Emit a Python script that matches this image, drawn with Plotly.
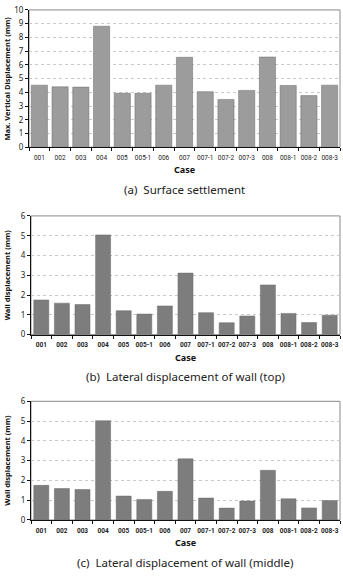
import plotly.graph_objects as go

cases = ["001", "002", "003", "004", "005", "005-1", "006", "007", "007-1",
         "007-2", "007-3", "008", "008-1", "008-2", "008-3"]
surface_settlement = [4.52, 4.40, 4.38, 8.81, 3.93, 3.93, 4.52, 6.55, 4.05,
                      3.48, 4.14, 6.57, 4.50, 3.76, 4.52]
wall_top = [1.75, 1.59, 1.52, 5.04, 1.21, 1.04, 1.45, 3.11, 1.11,
            0.60, 0.94, 2.51, 1.07, 0.61, 0.98]
wall_middle = [1.75, 1.59, 1.54, 5.02, 1.21, 1.04, 1.45, 3.09, 1.11,
               0.60, 0.96, 2.51, 1.07, 0.61, 0.98]

panels = [
    dict(vals=surface_settlement, ymax=10, color="#9c9c9c", width=0.78,
         ytitle="Max. Vertical Displacement (mm)",
         caption="(a)  Surface settlement",
         xdom=[29/343, 340/343], ydom=[1-144/576, 1-4/576], xbold=False),
    dict(vals=wall_top, ymax=6, color="#7d7d7d", width=0.73,
         ytitle="Wall displacement (mm)",
         caption="(b)  Lateral displacement of wall (top)",
         xdom=[31/343, 340/343], ydom=[1-335/576, 1-214/576], xbold=True),
    dict(vals=wall_middle, ymax=6, color="#7d7d7d", width=0.73,
         ytitle="Wall displacement (mm)",
         caption="(c)  Lateral displacement of wall (middle)",
         xdom=[31/343, 340/343], ydom=[1-524/576, 1-403/576], xbold=True),
]

fig = go.Figure()
annotations = []
shapes = []
FONT = "Noto Sans"
NARROW = "Liberation Sans Narrow, Roboto, Noto Sans"
for i, p in enumerate(panels):
    n = "" if i == 0 else str(i + 1)
    fig.add_trace(go.Bar(
        x=cases, y=p["vals"], xaxis="x" + n, yaxis="y" + n,
        width=p["width"],
        marker=dict(color=p["color"], line=dict(color="#6a6a6a", width=0.5)),
        showlegend=False,
    ))
    tickfont_x = dict(size=6.5, color="#222",
                      family=NARROW, weight="bold" if p["xbold"] else "normal")
    fig.layout["xaxis" + n] = dict(
        domain=p["xdom"], anchor="y" + n, type="category",
        showline=True, linecolor="#111", linewidth=1,
        ticks="outside", tickson="boundaries", ticklen=3, tickcolor="#111",
        tickfont=tickfont_x, tickangle=0, ticklabelstandoff=4,
        showgrid=False, fixedrange=True,
    )
    fig.layout["yaxis" + n] = dict(
        domain=p["ydom"], anchor="x" + n, range=[0, p["ymax"]], dtick=1,
        showline=True, linecolor="#111", linewidth=1,
        ticks="outside", ticklen=3, tickcolor="#111",
        tickfont=dict(size=8, color="#222", family=FONT),
        showgrid=True, gridcolor="#c8c8c8", griddash="dot", gridwidth=1,
        zeroline=False, fixedrange=True,
    )
    # frame
    shapes.append(dict(type="rect", xref="paper", yref="paper",
                       x0=p["xdom"][0], x1=p["xdom"][1],
                       y0=p["ydom"][0], y1=p["ydom"][1],
                       line=dict(color="#8a8a8a", width=1), layer="below"))
    ymid = (p["ydom"][0] + p["ydom"][1]) / 2
    annotations.append(dict(text=p["ytitle"], xref="paper", yref="paper",
                            x=7/343, y=ymid, textangle=-90, showarrow=False,
                            font=dict(size=7.5, family=FONT, color="#111", weight="bold"),
                            xanchor="center", yanchor="middle"))
    annotations.append(dict(text="Case", xref="paper", yref="paper",
                            x=(p["xdom"][0] + p["xdom"][1]) / 2,
                            y=p["ydom"][0] - 23/576, showarrow=False,
                            font=dict(size=9, family=FONT, color="#111", weight="bold"),
                            xanchor="center", yanchor="middle"))
    annotations.append(dict(text=p["caption"], xref="paper", yref="paper",
                            x=(p["xdom"][0] + p["xdom"][1]) / 2,
                            y=p["ydom"][0] - 43/576, showarrow=False,
                            font=dict(size=11.5, family=FONT, color="#222"),
                            xanchor="center", yanchor="middle"))

fig.update_layout(
    width=343, height=576, margin=dict(l=0, r=0, t=0, b=0),
    paper_bgcolor="white", plot_bgcolor="white",
    annotations=annotations, shapes=shapes,
)
fig.write_html("out.html")
